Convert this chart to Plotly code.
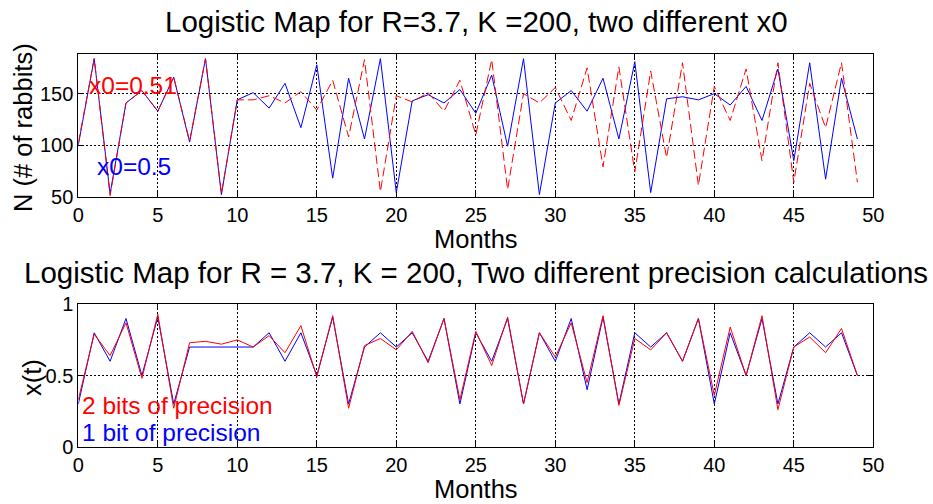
import plotly.graph_objects as go

W, H = 933, 504

months = list(range(50))

# Top panel: N (# of rabbits)
n_x0_050 = [100, 184, 53, 141, 153, 133, 166, 103, 184, 52,
            144, 151, 136, 160, 117, 178, 68, 165, 106, 184,
            54, 143, 149, 141, 154, 131, 168, 99, 184, 52,
            141, 153, 133, 165, 106, 181, 54, 145, 147, 144,
            150, 139, 157, 124, 174, 85, 180, 67, 165, 106]
n_x0_051 = [102, 184, 51, 141, 153, 133, 166, 104, 184, 53,
            144, 144, 148, 141, 152, 134, 163, 108, 183, 55,
            148, 142, 151, 133, 163, 110, 183, 57, 150, 141,
            156, 124, 175, 79, 176, 74, 172, 88, 180, 61,
            157, 124, 174, 85, 180, 64, 160, 117, 180, 64]

# Bottom panel: x(t)
x_1bit = [0.30, 0.80, 0.60, 0.90, 0.50, 0.91, 0.30, 0.70, 0.70, 0.70,
          0.70, 0.70, 0.80, 0.60, 0.80, 0.50, 0.91, 0.30, 0.70, 0.80,
          0.70, 0.80, 0.60, 0.90, 0.30, 0.80, 0.60, 0.90, 0.30, 0.80,
          0.60, 0.90, 0.40, 0.91, 0.30, 0.80, 0.70, 0.80, 0.60, 0.90,
          0.30, 0.80, 0.50, 0.90, 0.30, 0.70, 0.80, 0.70, 0.80, 0.50]
x_2bit = [0.33, 0.79, 0.64, 0.87, 0.48, 0.93, 0.27, 0.73, 0.74, 0.72,
          0.75, 0.70, 0.78, 0.66, 0.85, 0.49, 0.92, 0.27, 0.71, 0.76,
          0.68, 0.81, 0.59, 0.90, 0.33, 0.81, 0.57, 0.91, 0.30, 0.80,
          0.63, 0.87, 0.45, 0.92, 0.29, 0.76, 0.68, 0.80, 0.60, 0.90,
          0.36, 0.84, 0.50, 0.92, 0.26, 0.70, 0.77, 0.66, 0.83, 0.50]

x_ticks = [0, 5, 10, 15, 20, 25, 30, 35, 40, 45, 50]
top_y_ticks = [50, 100, 150]
bot_y_ticks = [0, 0.5, 1]

FONT = "Liberation Sans, Arial, sans-serif"

def px(x):
    return x / W

def py(y):
    return 1 - y / H

fig = go.Figure()

fig.add_trace(go.Scatter(x=months, y=n_x0_050, mode="lines",
                         line=dict(color="#0000ff", width=1),
                         xaxis="x", yaxis="y", showlegend=False))
fig.add_trace(go.Scatter(x=months, y=n_x0_051, mode="lines",
                         line=dict(color="#ff0000", width=1, dash="9px,4px"),
                         xaxis="x", yaxis="y", showlegend=False))
fig.add_trace(go.Scatter(x=months, y=x_1bit, mode="lines",
                         line=dict(color="#0000ff", width=1),
                         xaxis="x2", yaxis="y2", showlegend=False))
fig.add_trace(go.Scatter(x=months, y=x_2bit, mode="lines",
                         line=dict(color="#ff0000", width=1),
                         xaxis="x2", yaxis="y2", showlegend=False))

xdom = [px(78.3), px(873.3)]
common_axis = dict(showline=True, linecolor="black", linewidth=1, mirror="ticks",
                   ticks="inside", ticklen=5, tickcolor="black", automargin=False,
                   showgrid=True, gridcolor="black", gridwidth=1, griddash="2px,2px",
                   zeroline=False, tickfont=dict(family=FONT, size=20, color="black"))

fig.update_layout(
    template="none",
    width=W, height=H, autosize=False,
    margin=dict(l=0, r=0, t=0, b=0, pad=0, autoexpand=False),
    showlegend=False,
    paper_bgcolor="white", plot_bgcolor="white",
    xaxis=dict(domain=xdom, range=[0, 50], tickvals=x_ticks, anchor="y", **common_axis),
    yaxis=dict(domain=[py(196.7), py(54)], range=[50, 188.5], tickvals=top_y_ticks,
               anchor="x", **common_axis),
    xaxis2=dict(domain=xdom, range=[0, 50], tickvals=x_ticks, anchor="y2", **common_axis),
    yaxis2=dict(domain=[py(446.7), py(304.3)], range=[0, 1], tickvals=bot_y_ticks,
                anchor="x2", **common_axis),
)

def ann(text, x, y, size, color="black", angle=0, xanchor="center"):
    fig.add_annotation(text=text, x=x, y=y, xref="paper", yref="paper",
                       showarrow=False, xanchor=xanchor, yanchor="middle",
                       textangle=angle, font=dict(family=FONT, size=size, color=color))

ann("Logistic Map for R=3.7, K =200, two different x0", px(476), py(22), 29.5)
ann("Logistic Map for R = 3.7, K = 200, Two different precision calculations", px(476), py(272.5), 29.5)
ann("Months", px(476), py(239), 25.5)
ann("Months", px(476), py(489), 25.5)
ann("N (# of rabbits)", px(23), py(128), 25.5, angle=-90)
ann("x(t)", px(32), py(378), 25.5, angle=-90)

fig.add_annotation(text="x0=0.51", x=0.55, y=158, xref="x", yref="y", showarrow=False,
                   xanchor="left", yanchor="middle",
                   font=dict(family=FONT, size=24.5, color="#ff0000"))
fig.add_annotation(text="x0=0.5", x=1.05, y=79, xref="x", yref="y", showarrow=False,
                   xanchor="left", yanchor="middle",
                   font=dict(family=FONT, size=24.5, color="#0000ff"))
fig.add_annotation(text="2 bits of precision", x=0.1, y=0.29, xref="x2", yref="y2",
                   showarrow=False, xanchor="left", yanchor="middle",
                   font=dict(family=FONT, size=24.5, color="#ff0000"))
fig.add_annotation(text="1 bit of precision", x=0.1, y=0.10, xref="x2", yref="y2",
                   showarrow=False, xanchor="left", yanchor="middle",
                   font=dict(family=FONT, size=24.5, color="#0000ff"))

fig.write_html("out.html",
               post_script="document.body.style.margin='0';document.documentElement.style.overflow='hidden';")
